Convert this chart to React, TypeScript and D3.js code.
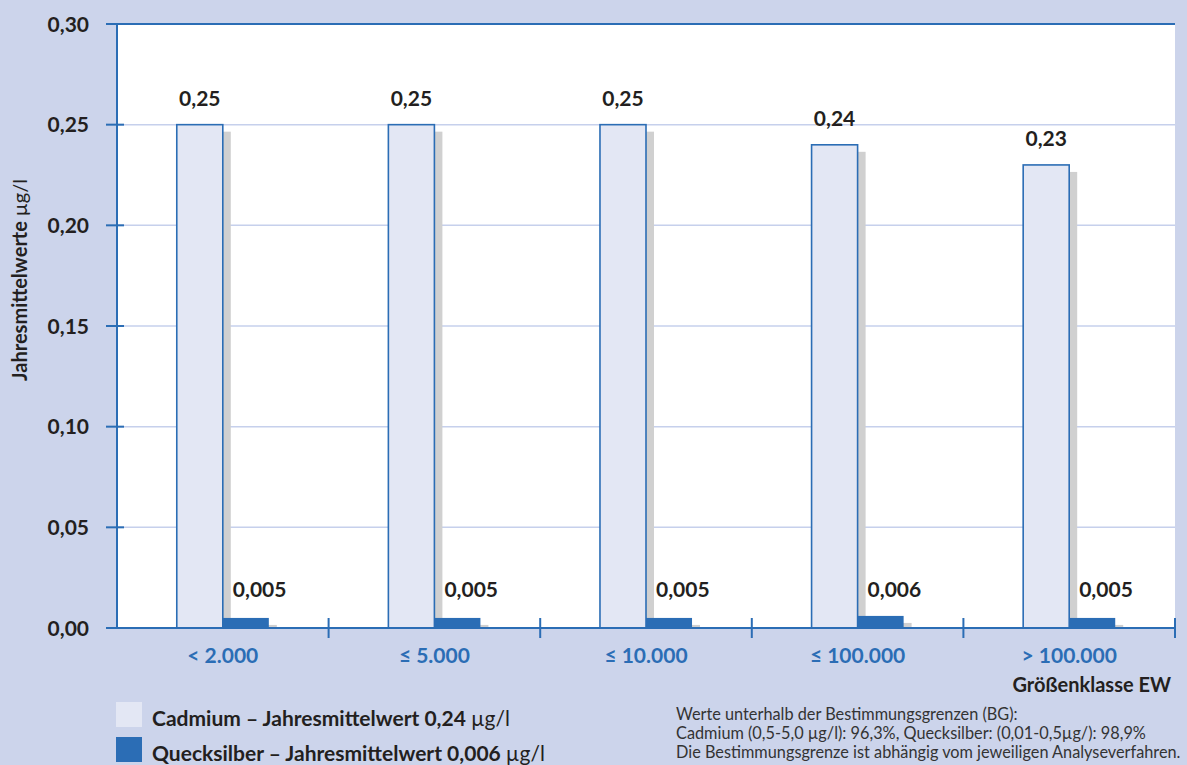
import React from "react";
import * as d3 from "d3";

// Größenklassen der Kläranlagen (Einwohnerwerte)
const categories = ["< 2.000", "≤ 5.000", "≤ 10.000", "≤ 100.000", "> 100.000"];
// Jahresmittelwerte in µg/l
const cadmium = [0.25, 0.25, 0.25, 0.24, 0.23];
const mercury = [0.005, 0.005, 0.005, 0.006, 0.005];
const yTicks = [0, 0.05, 0.1, 0.15, 0.2, 0.25, 0.3];

const legendItems = [
  { label: "Cadmium – Jahresmittelwert 0,24 ", unit: "µg/l", key: "cd" },
  { label: "Quecksilber – Jahresmittelwert 0,006 ", unit: "µg/l", key: "hg" },
];
const footnote = [
  "Werte unterhalb der Bestimmungsgrenzen (BG):",
  "Cadmium (0,5-5,0 µg/l): 96,3%, Quecksilber: (0,01-0,5µg/): 98,9%",
  "Die Bestimmungsgrenze ist abhängig vom jeweiligen Analyseverfahren.",
];

const W = 1187;
const H = 765;
const M = { left: 117, right: 1175, top: 24, bottom: 628 };

const BG = "#ccd4eb";
const BLUE = "#2b6db5";
const CD_FILL = "#e3e7f4";
const SHADOW = "#d0d0d0";
const GRID = "#c6d0ec";
const TEXT = "#231f20";
const FONT = "Lato, 'Noto Sans', sans-serif";

const de = d3.formatLocale({
  decimal: ",",
  thousands: ".",
  grouping: [3],
  currency: ["", " €"],
});
const fmt2 = de.format(".2f");
const fmt3 = de.format(".3f");

export default function App() {
  const x = d3
    .scaleBand<string>()
    .domain(categories)
    .range([M.left, M.right])
    .paddingInner(0)
    .paddingOuter(0);
  const y = d3.scaleLinear().domain([0, 0.3]).range([M.bottom, M.top]);
  const bw = x.bandwidth();
  const barW = bw * 0.2175;
  const shX = 8;
  const shY = 7;

  return (
    <svg
      width={W}
      height={H}
      style={{ position: "fixed", left: 0, top: 0, display: "block" }}
      fontFamily={FONT}
    >
      <rect x={0} y={0} width={W} height={H} fill={BG} />
      <rect
        x={M.left}
        y={M.top}
        width={M.right - M.left}
        height={M.bottom - M.top}
        fill="#ffffff"
      />

      {/* gridlines */}
      {yTicks
        .filter((t) => t > 0 && t < 0.3)
        .map((t) => (
          <line
            key={"g" + t}
            x1={M.left}
            x2={M.right}
            y1={y(t)}
            y2={y(t)}
            stroke={GRID}
            strokeWidth={1.5}
          />
        ))}

      {/* bars */}
      {categories.map((c, i) => {
        const cx = (x(c) as number) + bw / 2;
        const cdX = cx - barW;
        const hgX = cx;
        return (
          <g key={c}>
            <rect
              x={cdX + shX}
              y={y(cadmium[i]) + shY}
              width={barW}
              height={y(0) - y(cadmium[i]) - shY}
              fill={SHADOW}
            />
            <rect
              x={cdX}
              y={y(cadmium[i])}
              width={barW}
              height={y(0) - y(cadmium[i])}
              fill={CD_FILL}
              stroke={BLUE}
              strokeWidth={1.6}
            />
            <rect
              x={hgX + shX}
              y={Math.min(y(mercury[i]) + shY, y(0) - 3)}
              width={barW}
              height={Math.max(y(0) - y(mercury[i]) - shY, 3)}
              fill={SHADOW}
            />
            <rect
              x={hgX}
              y={y(mercury[i])}
              width={barW}
              height={y(0) - y(mercury[i])}
              fill={BLUE}
            />
            <text
              x={cdX + barW / 2}
              y={y(cadmium[i]) - 19}
              textAnchor="middle"
              fontSize={21}
              fontWeight={700}
              fill={TEXT}
            >
              {fmt2(cadmium[i])}
            </text>
            <text
              x={hgX + 10}
              y={y(0.005) - 21}
              textAnchor="start"
              fontSize={21}
              fontWeight={700}
              fill={TEXT}
            >
              {fmt3(mercury[i])}
            </text>
            <text
              x={cx}
              y={663}
              textAnchor="middle"
              fontSize={21}
              fontWeight={700}
              fill={BLUE}
            >
              {c}
            </text>
          </g>
        );
      })}

      {/* axes */}
      <line x1={M.left} x2={M.left} y1={M.top} y2={M.bottom} stroke={BLUE} strokeWidth={2} />
      <line x1={M.left - 11} x2={M.right} y1={M.top} y2={M.top} stroke={BLUE} strokeWidth={2} />
      <line x1={M.left} x2={M.right} y1={M.bottom} y2={M.bottom} stroke={BLUE} strokeWidth={2} />
      {yTicks.map((t) => (
        <g key={"t" + t}>
          <line
            x1={M.left - 11}
            x2={t < 0.3 ? M.left + 7 : M.left}
            y1={y(t)}
            y2={y(t)}
            stroke={BLUE}
            strokeWidth={2}
          />
          <text
            x={89}
            y={y(t)}
            dy="0.36em"
            textAnchor="end"
            fontSize={21}
            fontWeight={700}
            fill={TEXT}
          >
            {fmt2(t)}
          </text>
        </g>
      ))}
      {categories.map((c) => (
        <line
          key={"ct" + c}
          x1={(x(c) as number) + bw}
          x2={(x(c) as number) + bw}
          y1={M.bottom - 10}
          y2={M.bottom + 10}
          stroke={BLUE}
          strokeWidth={2}
        />
      ))}

      {/* axis titles */}
      <text
        transform={`translate(27, 280) rotate(-90)`}
        textAnchor="middle"
        fontSize={20}
        fontWeight={700}
        fill={TEXT}
      >
        Jahresmittelwerte <tspan fontWeight={400}>µg/l</tspan>
      </text>
      <text x={1171} y={692} textAnchor="end" fontSize={20} fontWeight={700} fill={TEXT}>
        Größenklasse EW
      </text>

      {/* legend */}
      {legendItems.map((d, i) => (
        <g key={d.key} transform={`translate(116, ${702 + i * 35})`}>
          <rect width={26} height={25} fill={d.key === "cd" ? CD_FILL : BLUE} />
          <text x={36} y={24} fontSize={21} fontWeight={700} fill={TEXT}>
            {d.label}
            <tspan fontWeight={400}>{d.unit}</tspan>
          </text>
        </g>
      ))}

      {/* footnote */}
      {footnote.map((line, i) => (
        <text key={i} x={676} y={720 + i * 19} fontSize={16.3} fill="#333333">
          {line}
        </text>
      ))}
    </svg>
  );
}
